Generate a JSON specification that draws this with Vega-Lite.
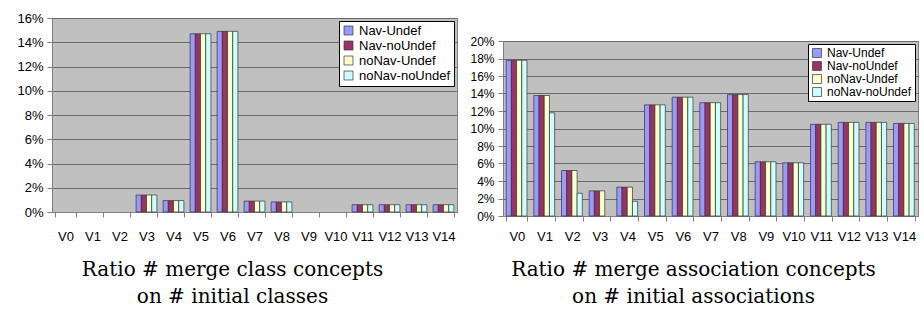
{
  "$schema": "https://vega.github.io/schema/vega-lite/v6.json",
  "background": "white",
  "padding": {"left": 16, "top": 11, "right": 2, "bottom": 2},
  "spacing": 11,
  "config": {
    "font": "Liberation Sans",
    "view": {"fill": "#C0C0C0", "stroke": "#808080", "strokeWidth": 1},
    "axis": {"labelFont": "Liberation Sans", "labelColor": "#000", "labelFontSize": 13, "domainColor": "#808080", "tickColor": "#808080", "tickSize": 5, "titleFont": "DejaVu Serif", "titleFontWeight": "normal", "titleFontSize": 20, "titleColor": "#000", "titleLineHeight": 27},
    "legend": {"labelFont": "Liberation Sans", "labelColor": "#000", "fillColor": "white", "strokeColor": "#000", "symbolType": "square", "symbolSize": 80, "symbolStrokeColor": "#333", "symbolStrokeWidth": 0.7, "symbolOpacity": 1, "rowPadding": 1, "padding": 3, "title": null}
  },
  "datasets": {
    "cls": [
      {"v": "V0", "s": "Nav-Undef", "p": 0}, {"v": "V0", "s": "Nav-noUndef", "p": 0}, {"v": "V0", "s": "noNav-Undef", "p": 0}, {"v": "V0", "s": "noNav-noUndef", "p": 0},
      {"v": "V1", "s": "Nav-Undef", "p": 0}, {"v": "V1", "s": "Nav-noUndef", "p": 0}, {"v": "V1", "s": "noNav-Undef", "p": 0}, {"v": "V1", "s": "noNav-noUndef", "p": 0},
      {"v": "V2", "s": "Nav-Undef", "p": 0}, {"v": "V2", "s": "Nav-noUndef", "p": 0}, {"v": "V2", "s": "noNav-Undef", "p": 0}, {"v": "V2", "s": "noNav-noUndef", "p": 0},
      {"v": "V3", "s": "Nav-Undef", "p": 0.014}, {"v": "V3", "s": "Nav-noUndef", "p": 0.014}, {"v": "V3", "s": "noNav-Undef", "p": 0.014}, {"v": "V3", "s": "noNav-noUndef", "p": 0.014},
      {"v": "V4", "s": "Nav-Undef", "p": 0.0094}, {"v": "V4", "s": "Nav-noUndef", "p": 0.0094}, {"v": "V4", "s": "noNav-Undef", "p": 0.0094}, {"v": "V4", "s": "noNav-noUndef", "p": 0.0094},
      {"v": "V5", "s": "Nav-Undef", "p": 0.147}, {"v": "V5", "s": "Nav-noUndef", "p": 0.147}, {"v": "V5", "s": "noNav-Undef", "p": 0.147}, {"v": "V5", "s": "noNav-noUndef", "p": 0.147},
      {"v": "V6", "s": "Nav-Undef", "p": 0.149}, {"v": "V6", "s": "Nav-noUndef", "p": 0.149}, {"v": "V6", "s": "noNav-Undef", "p": 0.149}, {"v": "V6", "s": "noNav-noUndef", "p": 0.149},
      {"v": "V7", "s": "Nav-Undef", "p": 0.009}, {"v": "V7", "s": "Nav-noUndef", "p": 0.009}, {"v": "V7", "s": "noNav-Undef", "p": 0.009}, {"v": "V7", "s": "noNav-noUndef", "p": 0.009},
      {"v": "V8", "s": "Nav-Undef", "p": 0.0083}, {"v": "V8", "s": "Nav-noUndef", "p": 0.0083}, {"v": "V8", "s": "noNav-Undef", "p": 0.0083}, {"v": "V8", "s": "noNav-noUndef", "p": 0.0083},
      {"v": "V9", "s": "Nav-Undef", "p": 0}, {"v": "V9", "s": "Nav-noUndef", "p": 0}, {"v": "V9", "s": "noNav-Undef", "p": 0}, {"v": "V9", "s": "noNav-noUndef", "p": 0},
      {"v": "V10", "s": "Nav-Undef", "p": 0}, {"v": "V10", "s": "Nav-noUndef", "p": 0}, {"v": "V10", "s": "noNav-Undef", "p": 0}, {"v": "V10", "s": "noNav-noUndef", "p": 0},
      {"v": "V11", "s": "Nav-Undef", "p": 0.006}, {"v": "V11", "s": "Nav-noUndef", "p": 0.006}, {"v": "V11", "s": "noNav-Undef", "p": 0.006}, {"v": "V11", "s": "noNav-noUndef", "p": 0.006},
      {"v": "V12", "s": "Nav-Undef", "p": 0.006}, {"v": "V12", "s": "Nav-noUndef", "p": 0.006}, {"v": "V12", "s": "noNav-Undef", "p": 0.006}, {"v": "V12", "s": "noNav-noUndef", "p": 0.006},
      {"v": "V13", "s": "Nav-Undef", "p": 0.006}, {"v": "V13", "s": "Nav-noUndef", "p": 0.006}, {"v": "V13", "s": "noNav-Undef", "p": 0.006}, {"v": "V13", "s": "noNav-noUndef", "p": 0.006},
      {"v": "V14", "s": "Nav-Undef", "p": 0.006}, {"v": "V14", "s": "Nav-noUndef", "p": 0.006}, {"v": "V14", "s": "noNav-Undef", "p": 0.006}, {"v": "V14", "s": "noNav-noUndef", "p": 0.006}
    ],
    "assoc": [
      {"v": "V0", "s": "Nav-Undef", "p": 0.178}, {"v": "V0", "s": "Nav-noUndef", "p": 0.178}, {"v": "V0", "s": "noNav-Undef", "p": 0.178}, {"v": "V0", "s": "noNav-noUndef", "p": 0.178},
      {"v": "V1", "s": "Nav-Undef", "p": 0.1377}, {"v": "V1", "s": "Nav-noUndef", "p": 0.1377}, {"v": "V1", "s": "noNav-Undef", "p": 0.1377}, {"v": "V1", "s": "noNav-noUndef", "p": 0.1178},
      {"v": "V2", "s": "Nav-Undef", "p": 0.052}, {"v": "V2", "s": "Nav-noUndef", "p": 0.052}, {"v": "V2", "s": "noNav-Undef", "p": 0.052}, {"v": "V2", "s": "noNav-noUndef", "p": 0.026},
      {"v": "V3", "s": "Nav-Undef", "p": 0.0287}, {"v": "V3", "s": "Nav-noUndef", "p": 0.0287}, {"v": "V3", "s": "noNav-Undef", "p": 0.0287}, {"v": "V3", "s": "noNav-noUndef", "p": 0},
      {"v": "V4", "s": "Nav-Undef", "p": 0.033}, {"v": "V4", "s": "Nav-noUndef", "p": 0.033}, {"v": "V4", "s": "noNav-Undef", "p": 0.033}, {"v": "V4", "s": "noNav-noUndef", "p": 0.0168},
      {"v": "V5", "s": "Nav-Undef", "p": 0.127}, {"v": "V5", "s": "Nav-noUndef", "p": 0.127}, {"v": "V5", "s": "noNav-Undef", "p": 0.127}, {"v": "V5", "s": "noNav-noUndef", "p": 0.127},
      {"v": "V6", "s": "Nav-Undef", "p": 0.1358}, {"v": "V6", "s": "Nav-noUndef", "p": 0.1358}, {"v": "V6", "s": "noNav-Undef", "p": 0.1358}, {"v": "V6", "s": "noNav-noUndef", "p": 0.1358},
      {"v": "V7", "s": "Nav-Undef", "p": 0.1295}, {"v": "V7", "s": "Nav-noUndef", "p": 0.1295}, {"v": "V7", "s": "noNav-Undef", "p": 0.1295}, {"v": "V7", "s": "noNav-noUndef", "p": 0.1295},
      {"v": "V8", "s": "Nav-Undef", "p": 0.1388}, {"v": "V8", "s": "Nav-noUndef", "p": 0.1388}, {"v": "V8", "s": "noNav-Undef", "p": 0.1388}, {"v": "V8", "s": "noNav-noUndef", "p": 0.1388},
      {"v": "V9", "s": "Nav-Undef", "p": 0.062}, {"v": "V9", "s": "Nav-noUndef", "p": 0.062}, {"v": "V9", "s": "noNav-Undef", "p": 0.062}, {"v": "V9", "s": "noNav-noUndef", "p": 0.062},
      {"v": "V10", "s": "Nav-Undef", "p": 0.0608}, {"v": "V10", "s": "Nav-noUndef", "p": 0.0608}, {"v": "V10", "s": "noNav-Undef", "p": 0.0608}, {"v": "V10", "s": "noNav-noUndef", "p": 0.0608},
      {"v": "V11", "s": "Nav-Undef", "p": 0.1048}, {"v": "V11", "s": "Nav-noUndef", "p": 0.1048}, {"v": "V11", "s": "noNav-Undef", "p": 0.1048}, {"v": "V11", "s": "noNav-noUndef", "p": 0.1048},
      {"v": "V12", "s": "Nav-Undef", "p": 0.107}, {"v": "V12", "s": "Nav-noUndef", "p": 0.107}, {"v": "V12", "s": "noNav-Undef", "p": 0.107}, {"v": "V12", "s": "noNav-noUndef", "p": 0.107},
      {"v": "V13", "s": "Nav-Undef", "p": 0.107}, {"v": "V13", "s": "Nav-noUndef", "p": 0.107}, {"v": "V13", "s": "noNav-Undef", "p": 0.107}, {"v": "V13", "s": "noNav-noUndef", "p": 0.107},
      {"v": "V14", "s": "Nav-Undef", "p": 0.1058}, {"v": "V14", "s": "Nav-noUndef", "p": 0.1058}, {"v": "V14", "s": "noNav-Undef", "p": 0.1058}, {"v": "V14", "s": "noNav-noUndef", "p": 0.1058}
    ]
  },
  "resolve": {"legend": {"color": "independent"}, "scale": {"y": "independent", "x": "independent"}},
  "hconcat": [
    {
      "width": 405,
      "height": 194,
      "data": {"name": "cls"},
      "transform": [{"filter": "datum.p > 0"}],
      "mark": {"type": "bar", "stroke": "#333", "strokeWidth": 0.7},
      "encoding": {
        "x": {"field": "v", "type": "nominal", "sort": ["V0", "V1", "V2", "V3", "V4", "V5", "V6", "V7", "V8", "V9", "V10", "V11", "V12", "V13", "V14"],
              "scale": {"domain": ["V0", "V1", "V2", "V3", "V4", "V5", "V6", "V7", "V8", "V9", "V10", "V11", "V12", "V13", "V14"], "paddingInner": 0.23, "paddingOuter": 0.115},
              "axis": {"labelAngle": 0, "tickBand": "extent", "labelPadding": 13, "titlePadding": 16, "titleX": 180,
                       "title": ["Ratio # merge class concepts", "on # initial classes"]}},
        "xOffset": {"field": "s", "type": "nominal", "sort": ["Nav-Undef", "Nav-noUndef", "noNav-Undef", "noNav-noUndef"], "scale": {"paddingInner": 0, "paddingOuter": 0}},
        "y": {"field": "p", "type": "quantitative",
              "scale": {"domain": [0, 0.16], "nice": false},
              "axis": {"title": null, "format": ".0%", "values": [0, 0.02, 0.04, 0.06, 0.08, 0.1, 0.12, 0.14, 0.16], "grid": true, "gridColor": "#6a6a6a", "gridWidth": 1, "labelPadding": 4}},
        "color": {"field": "s", "type": "nominal",
                  "scale": {"domain": ["Nav-Undef", "Nav-noUndef", "noNav-Undef", "noNav-noUndef"], "range": ["#9999FF", "#993366", "#FFFFCC", "#CCFFFF"]},
                  "legend": {"orient": "top-right", "offset": 3, "labelFontSize": 13}}
      }
    },
    {
      "spacing": 0,
      "resolve": {"legend": {"color": "independent"}},
      "vconcat": [
        {
          "width": 415,
          "height": 16,
          "view": {"stroke": null, "fill": null},
          "data": {"values": [{"blank": 0}]},
          "mark": {"type": "point", "opacity": 0},
          "encoding": {}
        },
        {
          "width": 415,
          "height": 175,
          "data": {"name": "assoc"},
          "transform": [{"filter": "datum.p > 0"}],
          "mark": {"type": "bar", "stroke": "#333", "strokeWidth": 0.7},
          "encoding": {
            "x": {"field": "v", "type": "nominal", "sort": ["V0", "V1", "V2", "V3", "V4", "V5", "V6", "V7", "V8", "V9", "V10", "V11", "V12", "V13", "V14"],
                  "scale": {"domain": ["V0", "V1", "V2", "V3", "V4", "V5", "V6", "V7", "V8", "V9", "V10", "V11", "V12", "V13", "V14"], "paddingInner": 0.23, "paddingOuter": 0.115},
                  "axis": {"labelAngle": 0, "tickBand": "extent", "labelPadding": 9, "titlePadding": 16, "titleX": 190,
                           "title": ["Ratio # merge association concepts", "on # initial associations"]}},
            "xOffset": {"field": "s", "type": "nominal", "sort": ["Nav-Undef", "Nav-noUndef", "noNav-Undef", "noNav-noUndef"], "scale": {"paddingInner": 0, "paddingOuter": 0}},
            "y": {"field": "p", "type": "quantitative",
                  "scale": {"domain": [0, 0.2], "nice": false},
                  "axis": {"title": null, "format": ".0%", "values": [0, 0.02, 0.04, 0.06, 0.08, 0.1, 0.12, 0.14, 0.16, 0.18, 0.2], "grid": true, "gridColor": "#6a6a6a", "gridWidth": 1, "labelPadding": 4, "labelFontSize": 12}},
            "color": {"field": "s", "type": "nominal",
                      "scale": {"domain": ["Nav-Undef", "Nav-noUndef", "noNav-Undef", "noNav-noUndef"], "range": ["#9999FF", "#993366", "#FFFFCC", "#CCFFFF"]},
                      "legend": {"orient": "top-right", "offset": 3, "labelFontSize": 12}}
          }
        }
      ]
    }
  ]
}
